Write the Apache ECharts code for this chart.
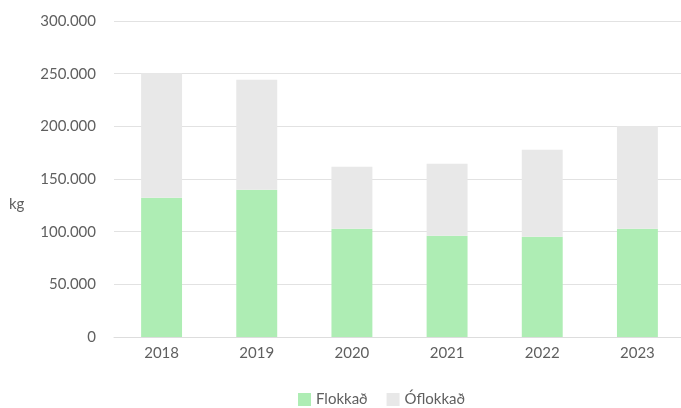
<!DOCTYPE html>
<html>
<head>
<meta charset="utf-8">
<script src="https://cdn.jsdelivr.net/npm/echarts@6/dist/echarts.min.js"></script>
<style>
  html, body { margin: 0; padding: 0; background: #fff; }
</style>
</head>
<body>
<div id="main" style="width: 681px; height: 408px"></div>
<script>
const years = ["2018", "2019", "2020", "2021", "2022", "2023"];
const flokkad = [132300, 139800, 102800, 96200, 95200, 102800];
const oflokkad = [118200, 104500, 58900, 68300, 82600, 97200];
const seriesNames = ["Flokkað", "Óflokkað"];

const textColor = "#5f5f5f";
const fontFamily = "Lato, 'Open Sans', sans-serif";

let myChart = echarts.init(document.getElementById("main"));
myChart.setOption({
  animation: false,
  textStyle: { fontFamily: fontFamily },
  grid: { left: 114, top: 21, width: 571, height: 316, outerBoundsMode: "none" },
  legend: {
    data: seriesNames,
    top: 392,
    left: 298,
    padding: 0,
    itemWidth: 13,
    itemHeight: 13,
    itemGap: 19,
    icon: "rect",
    textStyle: { color: textColor, fontSize: 15, fontFamily: fontFamily }
  },
  graphic: [
    {
      type: "text",
      left: 9,
      top: 197,
      style: { text: "kg", fill: textColor, font: "15px " + fontFamily }
    }
  ],
  xAxis: {
    type: "category",
    data: years,
    axisLine: { lineStyle: { color: "#dddddd", width: 1 } },
    axisTick: { show: false },
    axisLabel: { color: textColor, fontSize: 15, margin: 9 }
  },
  yAxis: {
    type: "value",
    min: 0,
    max: 300000,
    interval: 50000,
    axisLine: { show: false },
    axisTick: { show: false },
    splitLine: { lineStyle: { color: "#e2e2e2", width: 1 } },
    axisLabel: {
      color: textColor,
      fontSize: 15,
      margin: 18,
      formatter: function (v) {
        return v.toString().replace(/\B(?=(\d{3})+(?!\d))/g, ".");
      }
    }
  },
  series: [
    {
      name: seriesNames[0],
      type: "bar",
      stack: "total",
      barWidth: "43%",
      itemStyle: { color: "#aeedb4" },
      data: flokkad
    },
    {
      name: seriesNames[1],
      type: "bar",
      stack: "total",
      barWidth: "43%",
      itemStyle: { color: "#e8e8e8" },
      data: oflokkad
    }
  ]
});
</script>
</body>
</html>
